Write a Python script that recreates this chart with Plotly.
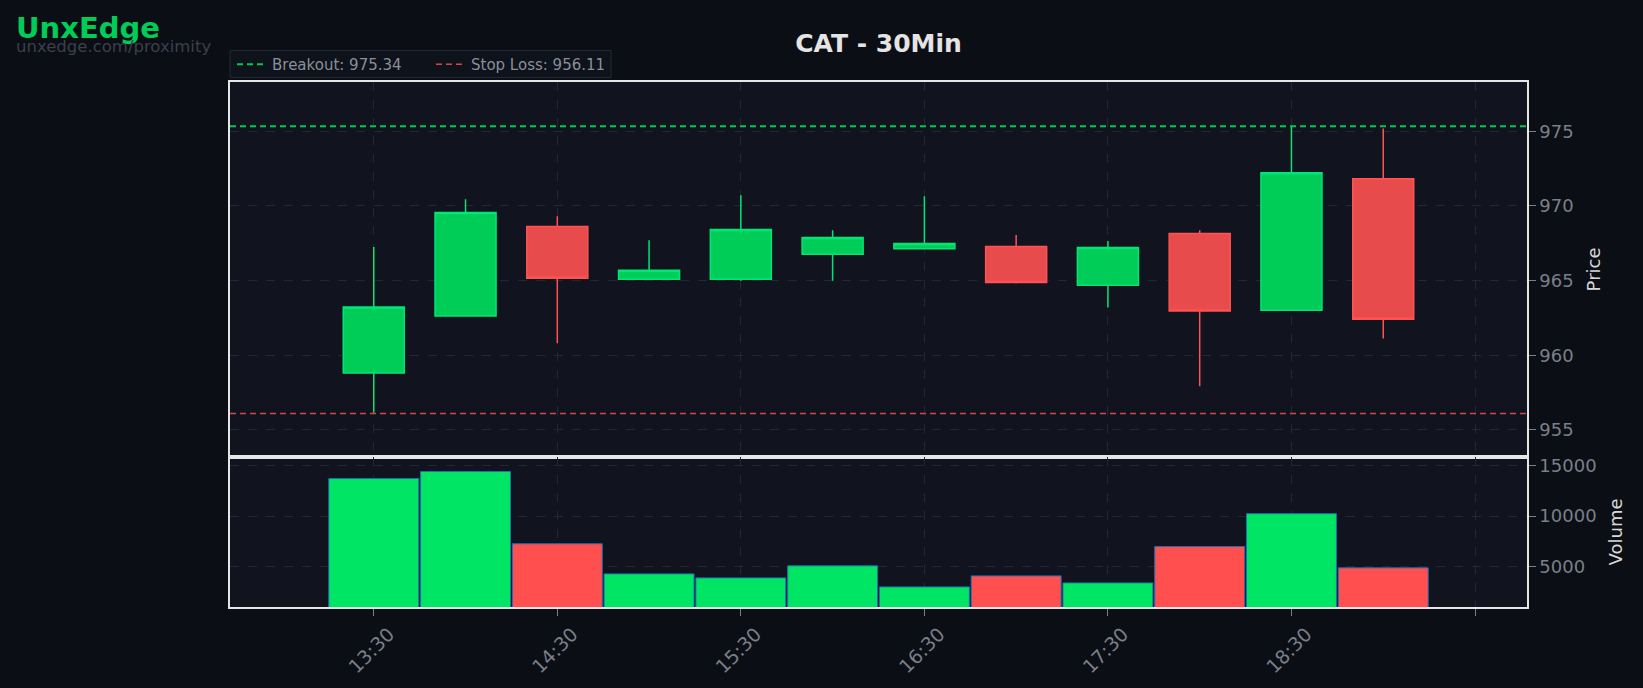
import plotly.graph_objects as go
from plotly.subplots import make_subplots
import pandas as pd

# ---- data ----
times = ["13:30", "14:00", "14:30", "15:00", "15:30", "16:00",
         "16:30", "17:00", "17:30", "18:00", "18:30", "19:00"]
opens  = [958.82, 962.63, 968.62, 965.09, 965.09, 966.76, 967.13, 967.29, 964.69, 968.16, 963.02, 971.82]
highs  = [967.25, 970.45, 969.31, 967.71, 970.71, 968.38, 970.65, 968.05, 967.65, 968.38, 975.34, 975.18]
lows   = [956.15, 962.60, 960.80, 965.05, 965.00, 965.00, 967.10, 964.80, 963.20, 957.93, 963.00, 961.13]
closes = [963.23, 969.56, 965.16, 965.69, 968.42, 967.89, 967.49, 964.87, 967.22, 962.96, 972.23, 962.42]
volumes = [13740, 14440, 7240, 4240, 3840, 5040, 2940, 4040, 3340, 6970, 10240, 4840]
breakout = 975.34
stop_loss = 956.11
tick_labels = ["13:30", "14:30", "15:30", "16:30", "17:30", "18:30", ""]
tick_times = ["13:30", "14:30", "15:30", "16:30", "17:30", "18:30", "19:30"]
day = "2025-01-15 "

x = pd.to_datetime([day + t for t in times])
tickvals = pd.to_datetime([day + t for t in tick_times])
pad = pd.Timedelta(minutes=47)
xr = [x[0] - pad, x[-1] + pad]

GREEN_FILL = "#00cc58"
GREEN_LINE = "#00e676"
RED_FILL = "#e84b4b"
RED_LINE = "#ff5252"
VOL_GREEN = "#00e563"
VOL_RED = "#ff4f4f"
PAGE_BG = "#0b0e15"
PLOT_BG = "#11141f"
GRID = "#222735"
TICK = "#7a7f8a"
BORDER = "#e6e6e6"

fig = make_subplots(rows=2, cols=1, shared_xaxes=True, vertical_spacing=0,
                    row_heights=[0.714, 0.286])

fig.add_trace(go.Candlestick(
    x=x, open=opens, high=highs, low=lows, close=closes,
    increasing=dict(fillcolor=GREEN_FILL, line=dict(color=GREEN_LINE, width=1.5)),
    decreasing=dict(fillcolor=RED_FILL, line=dict(color=RED_LINE, width=1.5)),
    whiskerwidth=0, showlegend=False, hoverinfo="skip"), row=1, col=1)

fig.add_trace(go.Scatter(x=xr, y=[breakout, breakout], mode="lines",
                         line=dict(color="#00c853", width=2, dash="6px,4px"),
                         name=f"Breakout: {breakout:.2f}", legend="legend"), row=1, col=1)
fig.add_trace(go.Scatter(x=xr, y=[stop_loss, stop_loss], mode="lines",
                         line=dict(color="#d64545", width=1.5, dash="6px,4px"),
                         name=f"Stop Loss: {stop_loss:.2f}", legend="legend2"), row=1, col=1)

vol_colors = [VOL_GREEN if c >= o else VOL_RED for o, c in zip(opens, closes)]
fig.add_trace(go.Bar(x=x, y=volumes, marker=dict(color=vol_colors,
                     line=dict(color="#1f6fb4", width=1)),
                     width=1800000 * 0.98, showlegend=False, hoverinfo="skip"),
              row=2, col=1)

axis_common = dict(showgrid=True, gridcolor=GRID, griddash="dash", gridwidth=1,
                   showline=True, linecolor=BORDER, linewidth=1.5, mirror=True,
                   zeroline=False)

fig.update_xaxes(**axis_common, range=xr, tickvals=tickvals, ticktext=tick_labels,
                 rangeslider_visible=False)
fig.update_xaxes(ticks="outside", ticklen=7, tickcolor=TICK, tickangle=-45,
                 ticklabelshift=15,
                 tickfont=dict(color=TICK, size=19), row=2, col=1)
fig.update_xaxes(showticklabels=False, row=1, col=1)

fig.update_yaxes(**axis_common, side="right", ticks="outside", ticklen=7,
                 tickcolor=TICK, tickfont=dict(color=TICK, size=18))
fig.update_yaxes(range=[953.2, 978.3], tickvals=[955, 960, 965, 970, 975],
                 title=dict(text="Price", font=dict(color="#d8d8d8", size=18), standoff=15),
                 row=1, col=1)
fig.update_yaxes(range=[940, 15900], tickvals=[5000, 10000, 15000], tickformat="d",
                 title=dict(text="Volume", font=dict(color="#d8d8d8", size=18), standoff=14),
                 row=2, col=1)

PW = 1643 - 230 - 116   # plot width in px
PH = 688 - 82 - 81      # plot height in px


def py(px_from_top):
    return (688 - 81 - px_from_top) / PH


legend_common = dict(orientation="h", yanchor="middle", y=py(64.5), xanchor="left",
                     bgcolor="rgba(0,0,0,0)", borderwidth=0,
                     font=dict(size=15, color="#8a8f9a"))

fig.update_layout(
    width=1643, height=688,
    paper_bgcolor=PAGE_BG, plot_bgcolor=PLOT_BG,
    margin=dict(l=230, r=116, t=82, b=81),
    boxgap=0.335, boxgroupgap=0,
    font=dict(family="DejaVu Sans", color=TICK),
    title=dict(text="<b>CAT - 30Min</b>", x=0.5, xref="paper", xanchor="center",
               y=1 - 43 / 688, yanchor="middle",
               font=dict(size=25, color="#e4e4e4")),
    showlegend=True,
    legend=dict(**legend_common, x=2 / PW),
    legend2=dict(**legend_common, x=201 / PW),
    shapes=[dict(type="rect", xref="paper", yref="paper", layer="below",
                 x0=0, x1=(611 - 230) / PW, y0=py(77.5), y1=py(50.5),
                 fillcolor="#0e121a", line=dict(color="#232835", width=1))],
    annotations=[
        dict(text="<b>UnxEdge</b>", xref="paper", yref="paper", x=-216 / PW, y=py(28),
             xanchor="left", yanchor="middle", showarrow=False,
             font=dict(size=29, color="#00cc58", family="DejaVu Sans")),
        dict(text="unxedge.com/proximity", xref="paper", yref="paper", x=-216 / PW, y=py(46),
             xanchor="left", yanchor="middle", showarrow=False,
             font=dict(size=16.5, color="#3b404c", family="DejaVu Sans")),
    ],
)

fig.write_html("out.html", config={"displayModeBar": False},
               post_script="document.body.style.margin='0';"
                           "document.body.style.background='#0b0e15';")
